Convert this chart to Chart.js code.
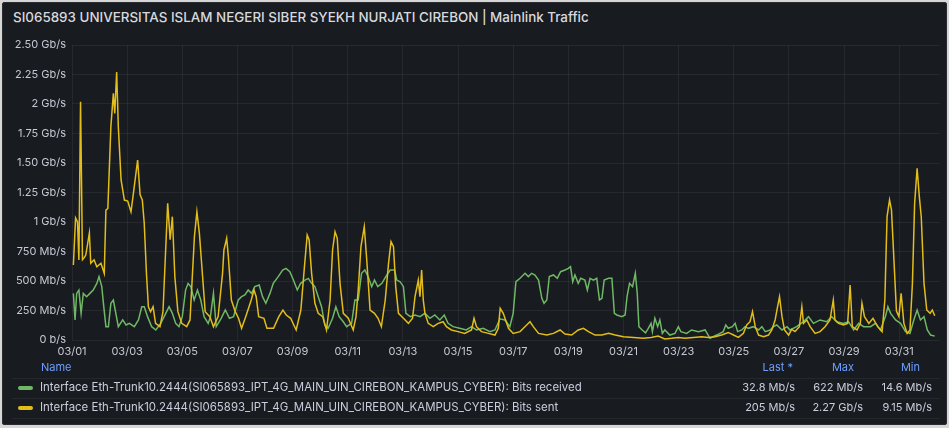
<!DOCTYPE html>
<html>
<head>
<meta charset="utf-8">
<script src="https://cdn.jsdelivr.net/npm/chart.js@4.4.1/dist/chart.umd.min.js"></script>
<style>
    body { margin: 0; width: 949px; height: 428px; background: #d6d6d6; overflow: hidden; font-family: Inter, "Noto Sans", sans-serif; }
    #panel { position: absolute; left: 2px; top: 2px; width: 943px; height: 421px; background: #181b1f; border: 1px solid #2a2c31; border-radius: 2px; }
    #title { position: absolute; left: 13px; top: 9px; font-size: 13.4px; font-weight: 500; color: #d8d9de; white-space: nowrap; }
    #chartBox { position: absolute; left: 8px; top: 30px; width: 934px; height: 332px; }
    .leg { position: absolute; font-size: 11px; color: #ccccdc; white-space: nowrap; }
    .name { font-size: 11.45px; }
    .hdr { color: #6e9fff; }
    .num { text-align: right; }
    .swatch { position: absolute; width: 15px; height: 4px; border-radius: 2px; }
    .rule { position: absolute; left: 12px; width: 928px; height: 1px; background: rgba(204,204,220,0.07); }
</style>
</head>
<body>
<div id="panel"></div>
<div id="title">SI065893 UNIVERSITAS ISLAM NEGERI SIBER SYEKH NURJATI CIREBON | Mainlink Traffic</div>
<div id="chartBox"><canvas id="trafficChart"></canvas></div>
<div id="legend"></div>

<script>
// x values are days since 03/01 00:00, y values in Mb/s
const tickDays = [0, 2, 4, 6, 8, 10, 12, 14, 16, 18, 20, 22, 24, 26, 28, 30];
const tickLabels = ['03/01', '03/03', '03/05', '03/07', '03/09', '03/11', '03/13', '03/15', '03/17', '03/19', '03/21', '03/23', '03/25', '03/27', '03/29', '03/31'];

const recvName = 'Interface Eth-Trunk10.2444(SI065893_IPT_4G_MAIN_UIN_CIREBON_KAMPUS_CYBER): Bits received';
const sentName = 'Interface Eth-Trunk10.2444(SI065893_IPT_4G_MAIN_UIN_CIREBON_KAMPUS_CYBER): Bits sent';

const recvDays = [0.05, 0.11, 0.17, 0.25, 0.33, 0.41, 0.53, 0.65, 0.77, 0.9, 0.98, 1.08, 1.14, 1.23, 1.32, 1.41, 1.5, 1.59, 1.68, 1.84, 1.96, 2.08, 2.26, 2.41, 2.53, 2.62, 2.74, 2.89, 3.04, 3.22, 3.4, 3.52, 3.64, 3.76, 3.88, 4.0, 4.12, 4.21, 4.31, 4.43, 4.55, 4.67, 4.79, 4.94,
    5.02, 5.13, 5.23, 5.41, 5.56, 5.71, 5.86, 6.03, 6.15, 6.27, 6.39, 6.51, 6.63, 6.79, 6.91, 7.03, 7.18, 7.3, 7.48, 7.64, 7.76, 7.9, 8.03, 8.17, 8.29, 8.45, 8.57, 8.69, 8.81, 8.93, 9.05, 9.17, 9.29, 9.45, 9.57, 9.69, 9.84, 9.96, 10.14, 10.26,
    10.38, 10.5, 10.62, 10.74, 10.87, 10.97, 11.09, 11.24, 11.38, 11.54, 11.7, 11.78, 11.9, 12.02, 12.11, 12.27, 12.44, 12.62, 12.8, 12.98, 13.16, 13.34, 13.5, 13.64, 13.82, 14.06, 14.3, 14.49, 14.67, 14.91, 15.16, 15.34, 15.52,
    15.7, 15.88, 16.0, 16.1, 16.25, 16.43, 16.55, 16.67, 16.79, 16.92, 17.04, 17.12, 17.22, 17.31, 17.46, 17.6, 17.72, 17.88, 18.0, 18.08, 18.16, 18.24, 18.36, 18.45, 18.6, 18.69, 18.79, 18.91, 19.03, 19.13, 19.22, 19.3, 19.46, 19.58, 19.67, 19.76, 19.94, 20.06, 20.13, 20.22, 20.33, 20.43, 20.5, 20.56, 20.68,
    20.8, 20.9, 21.0, 21.05, 21.14, 21.24, 21.32, 21.41, 21.5, 21.68, 21.87, 21.99, 22.08, 22.29, 22.47, 22.72, 22.96, 23.14, 23.38, 23.62, 23.71, 23.8, 23.95, 24.05, 24.14, 24.29, 24.41, 24.53, 24.71, 24.9, 25.02, 25.14, 25.32, 25.44, 25.56, 25.75, 25.93,
    26.04, 26.28, 26.53, 26.71, 26.89, 27.13, 27.37, 27.55, 27.74, 27.98, 28.16, 28.35, 28.53, 28.71, 28.96, 29.14, 29.32, 29.5, 29.59, 29.69, 29.87, 30.05, 30.23, 30.39, 30.53, 30.65, 30.77, 30.9, 31.02, 31.14, 31.29];
const recvMbps = [395, 170, 395, 423, 226, 395, 367, 395, 423, 480, 537, 452, 311, 113, 113, 311, 339, 226, 113, 170, 127, 141, 113, 170, 282, 282, 198, 113, 85, 141, 226, 282, 226, 141, 113, 198, 423, 480, 452, 339, 423, 339, 198, 141,
    198, 395, 113, 184, 254, 184, 198, 339, 367, 382, 424, 395, 452, 466, 367, 311, 395, 480, 537, 593, 607, 579, 508, 424, 480, 508, 522, 480, 452, 367, 282, 127, 99, 184, 282, 198, 155, 113, 141, 339,
    339, 565, 593, 537, 452, 508, 452, 480, 537, 593, 593, 508, 494, 452, 226, 198, 212, 198, 226, 184, 212, 170, 212, 141, 113, 99, 85, 113, 85, 99, 71, 85, 180,
    170, 113, 226, 494, 523, 565, 537, 565, 551, 508, 353, 311, 339, 537, 551, 523, 579, 593, 607, 622, 494, 551, 480, 523, 508, 424, 523, 508, 523, 339, 353, 508, 523, 523, 226, 212, 198, 212, 367, 480, 452, 565, 395, 113, 85,
    60, 99, 141, 71, 184, 113, 170, 56, 85, 42, 56, 113, 71, 56, 85, 71, 85, 14.6, 42, 71, 127, 99, 113, 141, 71, 85, 113, 99, 113, 85, 113, 71, 85, 113, 127, 85, 113,
    85, 113, 155, 198, 141, 170, 155, 198, 155, 141, 155, 85, 141, 113, 113, 141, 85, 198, 282, 226, 170, 141, 71, 56, 170, 254, 170, 198, 85, 42, 32.8];

const sentDays = [0.05, 0.13, 0.2, 0.25, 0.31, 0.38, 0.45, 0.5, 0.63, 0.68, 0.8, 0.9, 1.05, 1.17, 1.23, 1.3, 1.41, 1.5, 1.55, 1.62, 1.68, 1.78, 1.9, 2.02, 2.14, 2.22, 2.38, 2.47, 2.55, 2.62, 2.7, 2.77, 2.85, 2.94, 3.03, 3.19, 3.3, 3.47, 3.56, 3.64, 3.73, 3.84, 3.98, 4.16, 4.28, 4.44, 4.53, 4.62, 4.71, 4.83,
    5.0, 5.13, 5.3, 5.46, 5.51, 5.61, 5.67, 5.78, 5.92, 6.04, 6.15, 6.3, 6.5, 6.6, 6.68, 6.77, 6.96, 7.07, 7.31, 7.5, 7.65, 7.77, 7.93, 8.13, 8.3, 8.43, 8.53, 8.6, 8.69, 8.81, 8.93, 9.09, 9.23, 9.36, 9.45, 9.54, 9.62, 9.72, 9.84, 10.02, 10.2,
    10.3, 10.38, 10.48, 10.6, 10.69, 10.81, 10.97, 11.1, 11.22, 11.36, 11.48, 11.57, 11.66, 11.74, 11.84, 12.02, 12.2, 12.35, 12.44, 12.56, 12.62, 12.68, 12.74, 12.8, 12.92, 13.1, 13.28, 13.46, 13.58, 13.76, 14.0, 14.24, 14.49, 14.58, 14.67, 14.85, 15.1, 15.34, 15.46, 15.53,
    15.64, 15.83, 16.0, 16.25, 16.49, 16.61, 16.73, 16.92, 17.22, 17.46, 17.7, 17.88, 18.12, 18.36, 18.55, 18.73, 18.97, 19.22, 19.46, 19.7, 20.0, 20.36, 20.72,
    21.0, 21.26, 21.5, 21.75, 21.99, 22.23, 22.53, 22.84, 23.08, 23.32, 23.56, 23.8, 23.99, 24.17, 24.35, 24.47, 24.59, 24.68, 24.78, 24.9, 25.08, 25.26, 25.38, 25.5, 25.59, 25.66, 25.75, 25.84, 25.99,
    26.1, 26.22, 26.38, 26.47, 26.53, 26.65, 26.77, 26.95, 27.13, 27.31, 27.49, 27.61, 27.67, 27.8, 27.98, 28.13, 28.22, 28.3, 28.47, 28.59, 28.65, 28.74, 28.9, 29.05, 29.22, 29.38, 29.48, 29.56, 29.65, 29.72, 29.78, 29.9, 29.99, 30.07, 30.17, 30.29, 30.39, 30.48, 30.56, 30.65, 30.73, 30.8, 30.9, 31.0, 31.12, 31.2, 31.29];
const sentMbps = [636, 1034, 1000, 678, 2020, 680, 700, 720, 906, 650, 680, 620, 650, 565, 1100, 1115, 1808, 2090, 1920, 2270, 1808, 1356, 1186, 1178, 1087, 1230, 1525, 1230, 1186, 990, 565, 282, 240, 282, 141, 113, 240, 1158, 850, 1045, 536, 240, 141, 113, 170, 876, 1087, 904, 621, 240,
    198, 113, 198, 565, 763, 862, 706, 339, 240, 184, 99, 198, 339, 424, 367, 198, 184, 99, 99, 198, 254, 212, 184, 85, 254, 621, 890, 848, 565, 311, 226, 198, 85, 339, 763, 918, 862, 480, 226, 184, 85,
    198, 424, 791, 960, 678, 254, 226, 184, 113, 339, 650, 833, 791, 452, 226, 184, 141, 184, 367, 508, 367, 593, 339, 226, 141, 113, 141, 155, 113, 85, 71, 56, 85, 184, 113, 71, 56, 42, 99, 268,
    226, 99, 56, 71, 127, 155, 113, 56, 42, 56, 85, 50, 42, 85, 99, 71, 42, 42, 56, 42, 28, 22, 14,
    22, 33, 9.15, 14, 22, 14, 22, 28, 22, 28, 42, 64, 42, 22, 56, 127, 155, 240, 113, 42, 28, 42, 85, 170, 282, 367, 198, 85, 42,
    90, 71, 113, 282, 141, 170, 113, 56, 71, 113, 170, 339, 170, 141, 127, 141, 466, 113, 85, 141, 311, 198, 141, 184, 113, 71, 339, 1045, 1186, 1102, 819, 245, 198, 395, 141, 56, 85, 480, 1158, 1455, 1215, 1045, 480, 254, 226, 254, 205];

const recvColor = '#6fb865';
const sentColor = '#e3bd1a';

const legendRows = [
    { name: recvName, color: recvColor, last: '32.8 Mb/s', max: '622 Mb/s', min: '14.6 Mb/s' },
    { name: sentName, color: sentColor, last: '205 Mb/s', max: '2.27 Gb/s', min: '9.15 Mb/s' }
];

function formatBits(v) {
    if (v === 0) return '0 b/s';
    if (v < 1000) return v + ' Mb/s';
    const g = v / 1000;
    return (Number.isInteger(g) ? g : g.toFixed(2)) + ' Gb/s';
}

function buildLegend() {
    const box = document.getElementById('legend');
    let html = '';
    html += '<div class="leg hdr" style="left:41px;top:360px">Name</div>';
    html += '<div class="leg hdr num" style="left:740px;width:53px;top:360px">Last *</div>';
    html += '<div class="leg hdr num" style="left:810px;width:44px;top:360px">Max</div>';
    html += '<div class="leg hdr num" style="left:880px;width:40px;top:360px">Min</div>';
    html += '<div class="rule" style="top:378px"></div>';
    legendRows.forEach((r, i) => {
        const top = 380 + i * 20;
        html += '<div class="swatch" style="left:18px;top:' + (top + 6) + 'px;background:' + r.color + '"></div>';
        html += '<div class="leg name" style="left:40px;top:' + top + 'px">' + r.name + '</div>';
        html += '<div class="leg num" style="left:715px;width:80px;top:' + top + 'px">' + r.last + '</div>';
        html += '<div class="leg num" style="left:790px;width:73px;top:' + top + 'px">' + r.max + '</div>';
        html += '<div class="leg num" style="left:855px;width:77px;top:' + top + 'px">' + r.min + '</div>';
        html += '<div class="rule" style="top:' + (top + 18) + 'px"></div>';
    });
    box.innerHTML = html;
}

buildLegend();

const tickFont = { family: 'Inter', size: 11 };
const gridColor = 'rgba(204, 204, 220, 0.08)';

new Chart(document.getElementById('trafficChart').getContext('2d'), {
    type: 'line',
    data: {
        datasets: [{
            label: sentName,
            data: sentDays.map((d, i) => ({ x: d, y: sentMbps[i] })),
            borderColor: sentColor,
            borderWidth: 1.5,
            pointRadius: 0,
            tension: 0,
            fill: false,
            order: 0
        }, {
            label: recvName,
            data: recvDays.map((d, i) => ({ x: d, y: recvMbps[i] })),
            borderColor: recvColor,
            borderWidth: 1.5,
            pointRadius: 0,
            tension: 0,
            fill: false,
            order: 1
        }]
    },
    options: {
        responsive: true,
        maintainAspectRatio: false,
        animation: false,
        layout: { padding: { top: 15, right: 2, left: 0, bottom: 0 } },
        plugins: {
            legend: { display: false },
            tooltip: { enabled: false }
        },
        scales: {
            x: {
                type: 'linear',
                min: 0,
                max: 31.48,
                afterBuildTicks: s => { s.ticks = tickDays.map(v => ({ value: v })); },
                afterFit: s => { s.height = 22; },
                grid: { color: gridColor, drawTicks: false },
                border: { display: false },
                ticks: {
                    color: '#c8c8d4',
                    font: tickFont,
                    padding: 5,
                    maxRotation: 0,
                    autoSkip: false,
                    callback: (v, i) => tickLabels[i]
                }
            },
            y: {
                min: 0,
                max: 2500,
                afterFit: s => { s.width = 64; },
                grid: { color: gridColor, drawTicks: false },
                border: { display: false },
                ticks: {
                    stepSize: 250,
                    color: '#c8c8d4',
                    font: tickFont,
                    padding: 6,
                    callback: v => formatBits(v)
                }
            }
        }
    }
});
</script>
</body>
</html>
